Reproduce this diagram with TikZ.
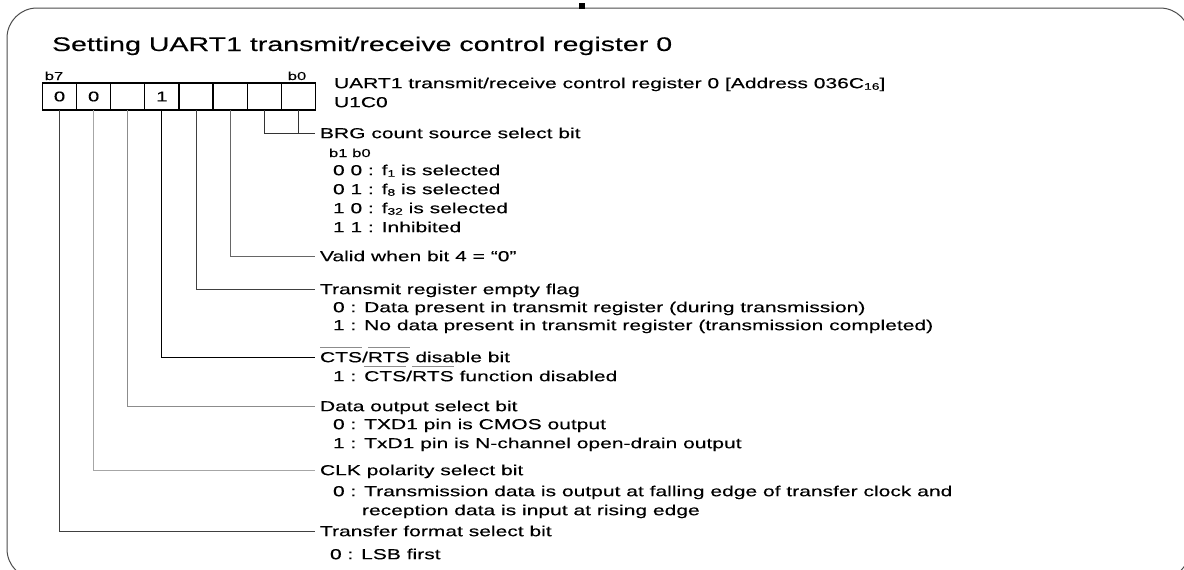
\documentclass[tikz,border=0pt]{standalone}
\usepackage{fontspec}
\setmainfont{Liberation Sans}[FakeStretch=1.45,FakeBold=0.2]
\newcommand\lowsub[1]{\raisebox{-0.2ex}{\fontsize{9.5pt}{10pt}\selectfont #1}}
\newcommand\ovbar[1]{\setbox0\hbox{#1}\rlap{\textcolor{black!45}{\rule[15pt]{\wd0}{0.6pt}}}\box0\relax}
\begin{document}
\begin{tikzpicture}[x=1pt,y=-1pt,
  every node/.style={inner sep=0pt, outer sep=0pt},
  cell/.style={draw=black, line width=1.2pt, minimum width=34.1pt, minimum height=27pt,
    font=\fontsize{14pt}{15pt}\selectfont},
  head/.style={anchor=west, inner xsep=5pt, inner ysep=0pt,
    font=\fontsize{14.5pt}{16pt}\selectfont, text height=10.4pt, text depth=0pt},
  item/.style={anchor=west, font=\fontsize{14.5pt}{16pt}\selectfont, text height=10.4pt, text depth=0pt},
  small/.style={anchor=base, font=\fontsize{11.5pt}{12pt}\selectfont},
  conn/.style={line width=0.9pt}
]
\useasboundingbox (0,0) rectangle (1184,570);
\clip (0,0) rectangle (1184,570);
\fill[white] (0,0) rectangle (1184,570);

% frame
\draw[line width=1pt, draw=black!70, rounded corners=30pt] (7,8) rectangle (1190,579);
\fill[black] (579,3) rectangle (585,9);

% title
\node[anchor=base west, font=\fontsize{19.7pt}{22pt}\selectfont] (title) at (52,51)
  {Setting UART1 transmit/receive control register 0};

% register cells
\node[cell] (c7) at (59.55,96.5) {0};
\node[cell] (c6) at (93.65,96.5) {0};
\node[cell] (c5) at (127.75,96.5) {};
\node[cell] (c4) at (161.85,96.5) {1};
\node[cell] (c3) at (195.95,96.5) {};
\node[cell] (c2) at (230.05,96.5) {};
\node[cell] (c1) at (264.15,96.5) {};
\node[cell] (c0) at (298.25,96.5) {};
\node[small] (lb7) at (54,80) {b7};
\node[small] (lb0) at (297,80) {b0};

\node[item] (reg) at (334,83) {UART1 transmit/receive control register 0 [Address 036C\lowsub{16}]};
\node[item] (regn) at (334,102) {U1C0};

% bits 1,0
\node[head] (hbrg) at (315,133) {BRG count source select bit};
\node[small, anchor=base west] (b1b0) at (329,157) {b1 b0};
\node[item] (i00) at (333,170) {0 0 : f\lowsub{1} is selected};
\node[item] (i01) at (333,189) {0 1 : f\lowsub{8} is selected};
\node[item] (i10) at (333,208) {1 0 : f\lowsub{32} is selected};
\node[item] (i11) at (333,227) {1 1 : Inhibited};

% bit 2
\node[head] (hvalid) at (315,256) {Valid when bit 4 = “0”};

% bit 3
\node[head] (htx) at (315,289) {Transmit register empty flag};
\node[item] (itx0) at (333,307) {0 : Data present in transmit register (during transmission)};
\node[item] (itx1) at (333,325) {1 : No data present in transmit register (transmission completed)};

% bit 4
\node[head] (hcts) at (315,357) {\ovbar{CTS}/\ovbar{RTS} disable bit};
\node[item] (icts) at (333,376) {1 : \ovbar{CTS}/\ovbar{RTS} function disabled};

% bit 5
\node[head] (hdata) at (315,406) {Data output select bit};
\node[item] (idata0) at (333,424) {0 : TXD1 pin is CMOS output};
\node[item] (idata1) at (333,443) {1 : TxD1 pin is N-channel open-drain output};

% bit 6
\node[head] (hclk) at (315,470) {CLK polarity select bit};
\node[item] (iclk0) at (333,491) {0 : Transmission data is output at falling edge of transfer clock and};
\node[item] (iclk1) at (362,510) {reception data is input at rising edge};

% bit 7
\node[head] (hfmt) at (315,531) {Transfer format select bit};
\node[item] (ifmt0) at (330,554) {0 : LSB first};

% connectors
\draw[conn, draw=black!80] (c1.south) |- (hbrg.west);
\draw[conn, draw=black!80] (c0.south) -- (c0.south |- hbrg.west);
\draw[conn, draw=black!60] (c2.south) |- (hvalid.west);
\draw[conn, draw=black!75] (c3.south) |- (htx.west);
\draw[conn, draw=black] (c4.south) |- (hcts.west);
\draw[conn, draw=black!45] (c5.south) |- (hdata.west);
\draw[conn, draw=black!35] (c6.south) |- (hclk.west);
\draw[conn, draw=black!75] (c7.south) |- (hfmt.west);
\end{tikzpicture}
\end{document}
